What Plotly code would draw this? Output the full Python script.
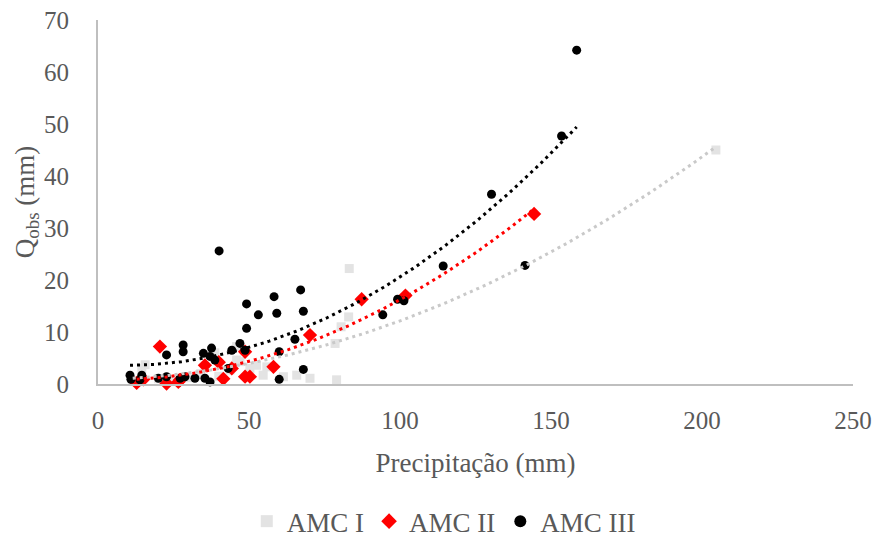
import numpy as np
import plotly.graph_objects as go

# AMC I (grey squares)
amc1_x = [11.5, 14.5, 15.6, 20.0, 25.0, 30.0, 34.0, 38.7, 40.0, 43.7, 45.9, 45.9, 47.0,
          50.3, 52.5, 54.7, 55.9, 61.4, 65.8, 70.2, 78.5, 79.0, 80.5, 83.0, 83.2, 204.6]
amc1_y = [0.5, 3.0, 3.7, 1.0, 0.8, 1.2, 2.0, 6.0, 1.5, 2.7, 7.2, 4.6, 4.3,
          3.0, 3.6, 1.7, 3.3, 1.4, 1.7, 1.1, 7.8, 0.8, 11.0, 12.9, 22.2, 45.0]

# AMC II (red diamonds)
amc2_x = [12.8, 15.0, 20.5, 22.7, 26.6, 27.2, 35.4, 40.0, 41.5, 44.3, 48.7, 48.7,
          50.3, 58.1, 70.2, 87.3, 101.8, 144.4]
amc2_y = [0.2, 0.9, 7.2, 0.1, 0.4, 0.8, 3.6, 4.2, 1.0, 3.0, 6.2, 1.4,
          1.4, 3.3, 9.4, 16.3, 17.0, 32.7]

# AMC III (black circles)
amc3_x = [10.6, 10.9, 13.9, 14.5, 20.0, 22.7, 22.7, 27.2, 28.2, 28.2, 28.8, 32.1,
          34.9, 35.4, 37.1, 37.1, 37.6, 38.7, 40.1, 43.1, 44.3, 47.0, 48.7, 49.2,
          49.2, 53.1, 58.3, 59.2, 60.0, 60.0, 65.2, 67.1, 68.0, 68.0, 94.3, 99.2,
          101.3, 114.3, 130.3, 141.4, 153.5, 158.5]
amc3_y = [1.7, 0.9, 0.8, 1.7, 1.1, 1.4, 5.6, 1.1, 7.5, 6.2, 1.4, 1.1,
          5.9, 1.1, 0.4, 5.3, 6.9, 4.6, 25.6, 3.0, 6.5, 7.8, 6.5, 10.7,
          15.4, 13.3, 16.8, 13.6, 6.2, 0.9, 8.6, 18.1, 14.0, 2.8, 13.3, 16.3,
          16.0, 22.7, 36.5, 22.8, 47.7, 64.2]

x_ticks = [0, 50, 100, 150, 200, 250]
y_ticks = [0, 10, 20, 30, 40, 50, 60, 70]

series = [
    ("AMC I", amc1_x, amc1_y, "#e3e3e3", "square", 9, "#c9c9c9"),
    ("AMC II", amc2_x, amc2_y, "#ff0000", "diamond", 11, "#ff0000"),
    ("AMC III", amc3_x, amc3_y, "#000000", "circle", 9, "#000000"),
]

fig = go.Figure()
for name, xs, ys, col, sym, sz, lcol in series:
    fig.add_trace(go.Scatter(x=xs, y=ys, mode="markers", name=name, cliponaxis=False,
                             marker=dict(color=col, symbol=sym, size=sz, line=dict(width=0))))

# polynomial (order 2) trendlines fitted to the data
for name, xs, ys, col, sym, sz, lcol in series:
    c = np.polyfit(xs, ys, 2)
    xx = np.linspace(min(xs), max(xs), 200)
    fig.add_trace(go.Scatter(x=xx, y=np.polyval(c, xx), mode="lines", showlegend=False,
                             hoverinfo="skip",
                             line=dict(color=lcol, width=3, dash="3px,4px")))

font = "Liberation Serif, Times New Roman, serif"
fig.update_layout(
    width=882, height=537,
    margin=dict(l=98, r=29, t=20, b=153, autoexpand=False),
    paper_bgcolor="white", plot_bgcolor="white",
    font=dict(family=font, color="#595959", size=25),
    showlegend=True,
    legend=dict(orientation="h", x=0.458, xanchor="center", y=-0.378, yanchor="middle",
                font=dict(size=27, color="#595959"), itemsizing="constant",
                itemwidth=30, tracegroupgap=0),
    xaxis=dict(range=[0, 250], tickvals=x_ticks, showgrid=False, zeroline=False,
               showline=True, linecolor="#bfbfbf", linewidth=2, ticks="",
               automargin=False,
               ticklabelstandoff=13, tickfont=dict(size=25),
               title=dict(text="Precipitação (mm)", font=dict(size=27, color="#595959"), standoff=20)),
    yaxis=dict(range=[0, 70], tickvals=y_ticks, showgrid=False, zeroline=False,
               showline=True, linecolor="#bfbfbf", linewidth=2, ticks="",
               automargin=False,
               ticklabelstandoff=22, tickfont=dict(size=25),
               title=dict(text="Q<sub>obs</sub> (mm)", font=dict(size=27, color="#595959"), standoff=2)),
)

fig.write_html("out.html", config={"displayModeBar": False},
               post_script="document.body.style.margin='0';document.body.style.overflow='hidden';")
